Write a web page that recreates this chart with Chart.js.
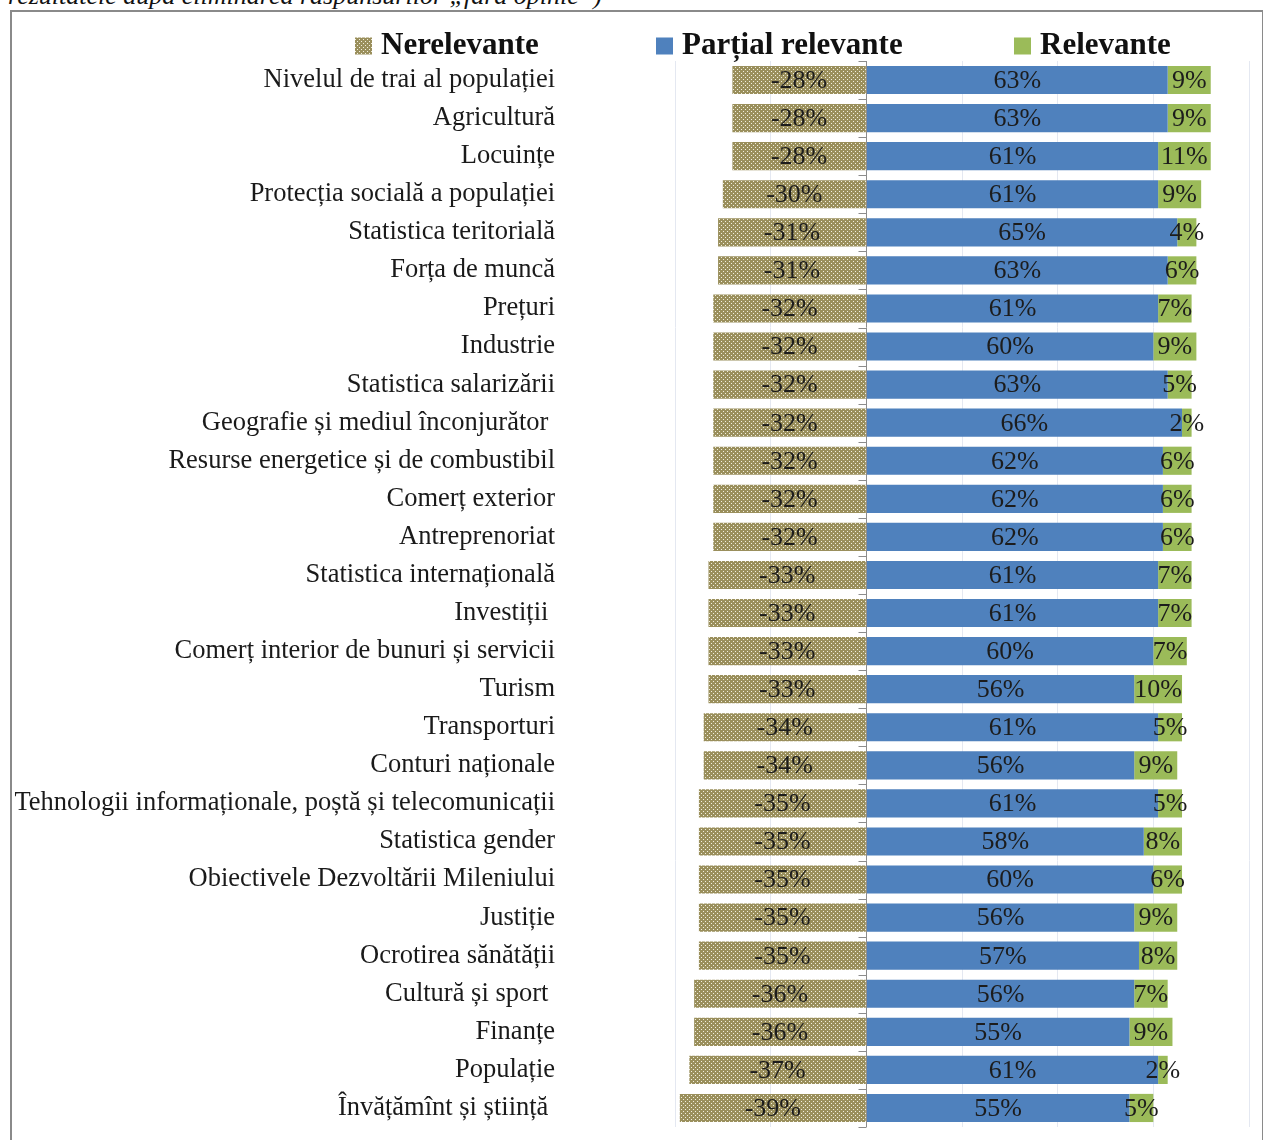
<!DOCTYPE html>
<html>
<head>
<meta charset="utf-8">
<script src="https://cdn.jsdelivr.net/npm/chart.js@4"></script>
<style>
  html, body { margin: 0; padding: 0; background: #fff; width: 1263px; height: 1140px; overflow: hidden; }
  #title { position: absolute; left: 8px; top: -19px; font: italic 26px "Liberation Serif", serif; color: #111; white-space: nowrap; }
  #frame { position: absolute; left: 10px; top: 10px; width: 1250px; height: 1140px; border-left: 2px solid #8a8a8a; border-top: 2px solid #8a8a8a; border-right: 2px solid #8a8a8a; }
  #wrap { position: absolute; left: 12px; top: 12px; width: 1251px; height: 1128px; }
</style>
</head>
<body>
<div id="title">rezultatele după eliminarea răspunsurilor „fără opinie”)</div>
<div id="frame"></div>
<div id="wrap"><canvas id="c" width="1251" height="1128"></canvas></div>
<script>
const categories = [
  "Nivelul de trai al populației",
  "Agricultură",
  "Locuințe",
  "Protecția socială a populației",
  "Statistica teritorială",
  "Forța de muncă",
  "Prețuri",
  "Industrie",
  "Statistica salarizării",
  "Geografie și mediul înconjurător ",
  "Resurse energetice și de combustibil",
  "Comerț exterior",
  "Antreprenoriat",
  "Statistica internațională",
  "Investiții ",
  "Comerț interior de bunuri și servicii",
  "Turism",
  "Transporturi",
  "Conturi naționale",
  "Tehnologii informaționale, poștă și telecomunicații",
  "Statistica gender",
  "Obiectivele Dezvoltării Mileniului",
  "Justiție",
  "Ocrotirea sănătății",
  "Cultură și sport ",
  "Finanțe",
  "Populație",
  "Învățămînt și știință "
];
const nerelevante = [-28,-28,-28,-30,-31,-31,-32,-32,-32,-32,-32,-32,-32,-33,-33,-33,-33,-34,-34,-35,-35,-35,-35,-35,-36,-36,-37,-39];
const partialRelevante = [63,63,61,61,65,63,61,60,63,66,62,62,62,61,61,60,56,61,56,61,58,60,56,57,56,55,61,55];
const relevante = [9,9,11,9,4,6,7,9,5,2,6,6,6,7,7,7,10,5,9,5,8,6,9,8,7,9,2,5];
const seriesNames = ["Nerelevante", "Parțial relevante", "Relevante"];
const xTicks = [-40, -20, 0, 20, 40, 60, 80];

// dotted pattern for "Nerelevante"
function makePattern() {
  const t = document.createElement('canvas');
  t.width = 4; t.height = 4;
  const g = t.getContext('2d');
  g.fillStyle = '#9a8f5c';
  g.fillRect(0, 0, 4, 4);
  g.fillStyle = '#f2efdf';
  g.fillRect(1, 1, 1, 1);
  g.fillRect(3, 3, 1, 1);
  return g.createPattern(t, 'repeat');
}
const ctx0 = document.getElementById('c').getContext('2d');
const pattern = makePattern();
const colors = [pattern, '#4f81bd', '#9bbb59'];

const serif = '"Liberation Serif", "Times New Roman", serif';

const labelPlugin = {
  id: 'barLabels',
  afterDatasetsDraw(chart) {
    const ctx = chart.ctx;
    const xs = chart.scales.x;
    const area = chart.chartArea;
    ctx.save();
    // zero axis line with tick marks
    const x0 = Math.round(xs.getPixelForValue(0)) + 0.5;
    ctx.strokeStyle = '#8c8c8c';
    ctx.lineWidth = 1;
    ctx.beginPath();
    ctx.moveTo(x0, area.top);
    ctx.lineTo(x0, area.bottom);
    const n = categories.length;
    const step = (area.bottom - area.top) / n;
    for (let i = 0; i <= n; i++) {
      const y = Math.round(area.top + i * step) + 0.5;
      ctx.moveTo(x0 - 8, y);
      ctx.lineTo(x0, y);
    }
    ctx.stroke();
    // value labels
    ctx.font = '26px ' + serif;
    ctx.fillStyle = '#1c1c1c';
    ctx.textAlign = 'center';
    ctx.textBaseline = 'middle';
    chart.data.datasets.forEach((ds, di) => {
      const meta = chart.getDatasetMeta(di);
      meta.data.forEach((el, i) => {
        const v = ds.data[i];
        const cx = (el.x + el.base) / 2;
        ctx.fillText(Math.round(v) + '%', cx, el.y + 1);
      });
    });
    ctx.restore();
  },
  afterDraw(chart) {
    // legend
    const ctx = chart.ctx;
    ctx.save();
    ctx.font = 'bold 31px ' + serif;
    ctx.textBaseline = 'middle';
    ctx.textAlign = 'left';
    const starts = [343, 644, 1002];
    const yc = 34;
    const box = 17;
    seriesNames.forEach((name, i) => {
      const x = starts[i];
      ctx.fillStyle = colors[i];
      ctx.fillRect(x, yc - box / 2, box, box);
      ctx.fillStyle = '#111';
      ctx.fillText(name, x + box + 9, yc);
    });
    ctx.restore();
  }
};

new Chart(ctx0, {
  type: 'bar',
  data: {
    labels: categories,
    datasets: [
      { label: seriesNames[0], data: nerelevante, backgroundColor: colors[0], borderWidth: 0 },
      { label: seriesNames[1], data: partialRelevante, backgroundColor: colors[1], borderWidth: 0 },
      { label: seriesNames[2], data: relevante, backgroundColor: colors[2], borderWidth: 0 }
    ]
  },
  options: {
    indexAxis: 'y',
    responsive: false,
    animation: false,
    events: [],
    layout: { padding: { top: 49, bottom: 13, right: 14, left: 0 } },
    datasets: { bar: { barPercentage: 0.74, categoryPercentage: 1 } },
    plugins: { legend: { display: false }, tooltip: { enabled: false } },
    scales: {
      x: {
        stacked: true,
        min: xTicks[0],
        max: xTicks[xTicks.length - 1],
        afterBuildTicks(scale) { scale.ticks = xTicks.map(v => ({ value: v })); },
        ticks: { display: false },
        grid: { color: '#e4e8f1', lineWidth: 1, drawTicks: false },
        border: { display: false },
        afterFit(scale) { scale.height = 0; scale.paddingLeft = 0; scale.paddingRight = 0; scale.paddingTop = 0; scale.paddingBottom = 0; }
      },
      y: {
        stacked: true,
        grid: { display: false },
        border: { display: false },
        ticks: { padding: 112, color: '#1a1a1a', font: { family: serif, size: 26.5 }, autoSkip: false },
        afterFit(scale) { scale.width = 663; scale.paddingTop = 0; scale.paddingBottom = 0; scale.paddingLeft = 0; scale.paddingRight = 0; }
      }
    }
  },
  plugins: [labelPlugin]
});
</script>
</body>
</html>
